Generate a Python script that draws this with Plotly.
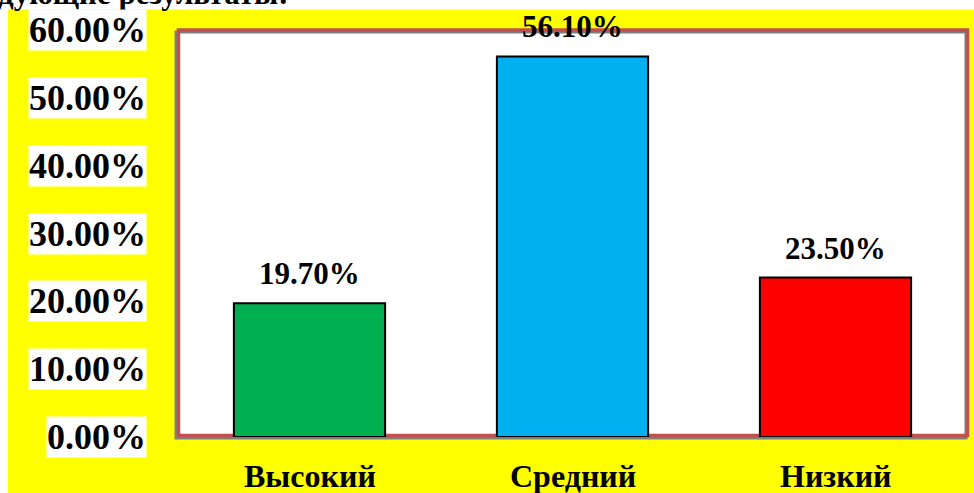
import plotly.graph_objects as go

categories = ["Высокий", "Средний", "Низкий"]
values = [19.7, 56.1, 23.5]
bar_colors = ["#00B050", "#00B0F0", "#FF0000"]
tick_values = [0, 10, 20, 30, 40, 50, 60]
tick_labels = ["0.00%", "10.00%", "20.00%", "30.00%", "40.00%", "50.00%", "60.00%"]
value_labels = ["19.70%", "56.10%", "23.50%"]
header_text = "дующие результаты:"

W, H = 974, 493
L, R, T, B = 178, 7, 30, 56
PW, PH = W - L - R, H - T - B

def px(xp):
    return (xp - L) / PW

def py(yp):
    return (H - B - yp) / PH

FONT = "Liberation Serif"

fig = go.Figure()
fig.add_trace(go.Bar(
    x=categories, y=values,
    marker=dict(color=bar_colors, line=dict(color="black", width=2)),
    width=0.575,
    hoverinfo="skip",
))

shapes = [
    dict(type="rect", xref="paper", yref="paper", x0=px(8), x1=px(980), y0=py(9.5), y1=py(500),
         fillcolor="#FFFF00", line=dict(width=0), layer="below"),
    dict(type="rect", xref="paper", yref="paper", x0=0, x1=1, y0=0, y1=1,
         fillcolor="white", line=dict(width=0), layer="below"),
    dict(type="rect", xref="paper", yref="paper", x0=px(176), x1=px(966), y0=py(438), y1=py(32),
         line=dict(color="#7F7F7F", width=3), layer="below"),
    dict(type="rect", xref="paper", yref="paper", x0=px(178.5), x1=px(967.5), y0=py(435.5), y1=py(30),
         line=dict(color="#C0504D", width=3.5), layer="below"),
]

annotations = []
annotations.append(dict(text=header_text, xref="paper", yref="paper", x=px(-4), y=py(-7),
                        xanchor="left", yanchor="middle", showarrow=False,
                        font=dict(family=FONT, size=31, color="black", weight="bold")))
for v, t in zip(tick_values, tick_labels):
    annotations.append(dict(text="<b>" + t + "</b>", xref="paper", yref="y", x=px(147), y=v,
                            xanchor="right", yanchor="middle", showarrow=False,
                            bgcolor="white", borderpad=0,
                            font=dict(family=FONT, size=36, color="black")))
for c, v, t in zip(categories, values, value_labels):
    annotations.append(dict(text="<b>" + t + "</b>", xref="x", yref="y", x=c, y=v,
                            xanchor="center", yanchor="bottom", showarrow=False, yshift=10,
                            font=dict(family=FONT, size=31, color="black")))
for c in categories:
    annotations.append(dict(text="<b>" + c + "</b>", xref="x", yref="paper", x=c, y=py(476),
                            xanchor="center", yanchor="middle", showarrow=False,
                            font=dict(family=FONT, size=32, color="black")))

fig.update_layout(
    width=W, height=H,
    margin=dict(l=L, r=R, t=T, b=B, pad=0),
    paper_bgcolor="white", plot_bgcolor="white",
    showlegend=False,
    bargap=0.425,
    shapes=shapes, annotations=annotations,
    xaxis=dict(showticklabels=False, showgrid=False, zeroline=False, showline=False, ticks=""),
    yaxis=dict(range=[0, 60], showticklabels=False, showgrid=False, zeroline=False,
               showline=False, ticks="", tickvals=tick_values),
)

fig.write_html("out.html", config={"displayModeBar": False},
               post_script="document.body.style.margin='0px';document.body.style.overflow='hidden';")
